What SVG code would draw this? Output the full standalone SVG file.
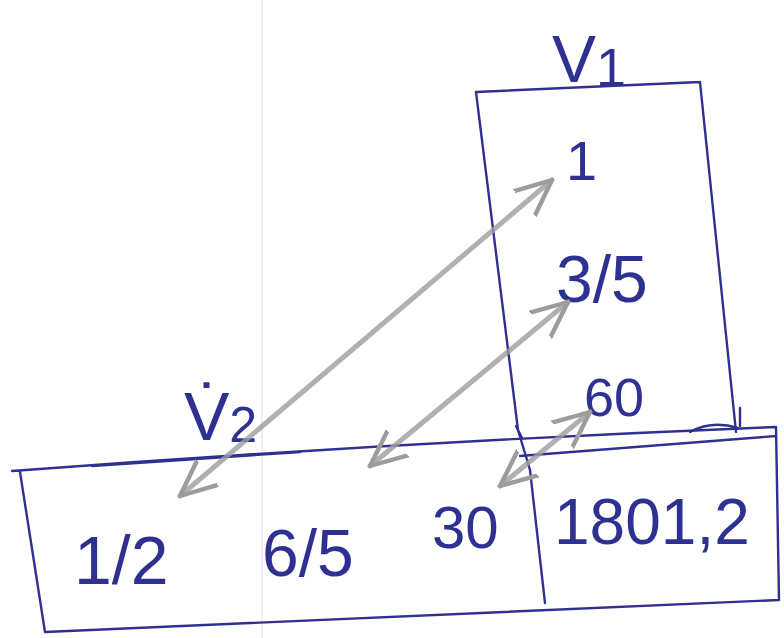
<svg xmlns="http://www.w3.org/2000/svg" width="784" height="638" viewBox="0 0 784 638">
<style>
.ln{fill:none;stroke:#2e3192;stroke-width:2.4;stroke-linecap:round;stroke-linejoin:round}
.t{font-family:"Liberation Sans","DejaVu Sans",sans-serif;fill:#2e3192}
.ar{fill:none;stroke:#9c9c9c;stroke-width:5;stroke-opacity:0.8;stroke-linecap:round;marker-start:url(#ah);marker-end:url(#ah)}
</style>
<defs>
<marker id="ah" viewBox="0 0 10 10" refX="9" refY="5" markerWidth="8" markerHeight="8" orient="auto-start-reverse">
<path d="M0,1 L9,5 L0,9" fill="none" stroke="#9c9c9c" stroke-width="1.1" stroke-linecap="round" stroke-linejoin="round"/>
</marker>
</defs>
<rect width="784" height="638" fill="#ffffff"/>
<line x1="262" y1="0" x2="262" y2="638" stroke="#d9dcf2" stroke-width="1"/>

<g id="V1">
<path class="ln" d="M476,92 L700,82 M700,82 L736,432 M476,92 L518,430"/>
<path class="ln" d="M740,408 L740,426 M690,432 Q712,420 738,428"/>
<text class="t" x="552" y="82" font-size="66">V<tspan font-size="54" dy="4">1</tspan></text>
<text class="t" x="566" y="180" font-size="56">1</text>
<text class="t" x="556" y="302" font-size="66">3/5</text>
<text class="t" x="584" y="416" font-size="54">60</text>
</g>

<g id="V2">
<path class="ln" d="M12,471 Q400,442 776,427 L779,600 L45,632 M20,472 L45,632"/>
<path class="ln" d="M92,466 L300,452 M520,456 L776,436"/>
<text class="t" x="184" y="440" font-size="68">V̇<tspan font-size="50" dy="2">2</tspan></text>
<text class="t" x="74" y="584" font-size="68">1/2</text>
<text class="t" x="262" y="576" font-size="66">6/5</text>
<text class="t" x="432" y="548" font-size="60">30</text>
</g>

<g id="V1V2">
<path class="ln" d="M518,430 L530,470 L545,603 M516,426 L522,438"/>
<text class="t" x="554" y="544" font-size="64">1801,2</text>
</g>

<g id="connectors">
<line class="ar" x1="180" y1="496" x2="552" y2="180"/>
<line class="ar" x1="370" y1="466" x2="568" y2="302"/>
<line class="ar" x1="500" y1="486" x2="590" y2="412"/>
</g>
</svg>
